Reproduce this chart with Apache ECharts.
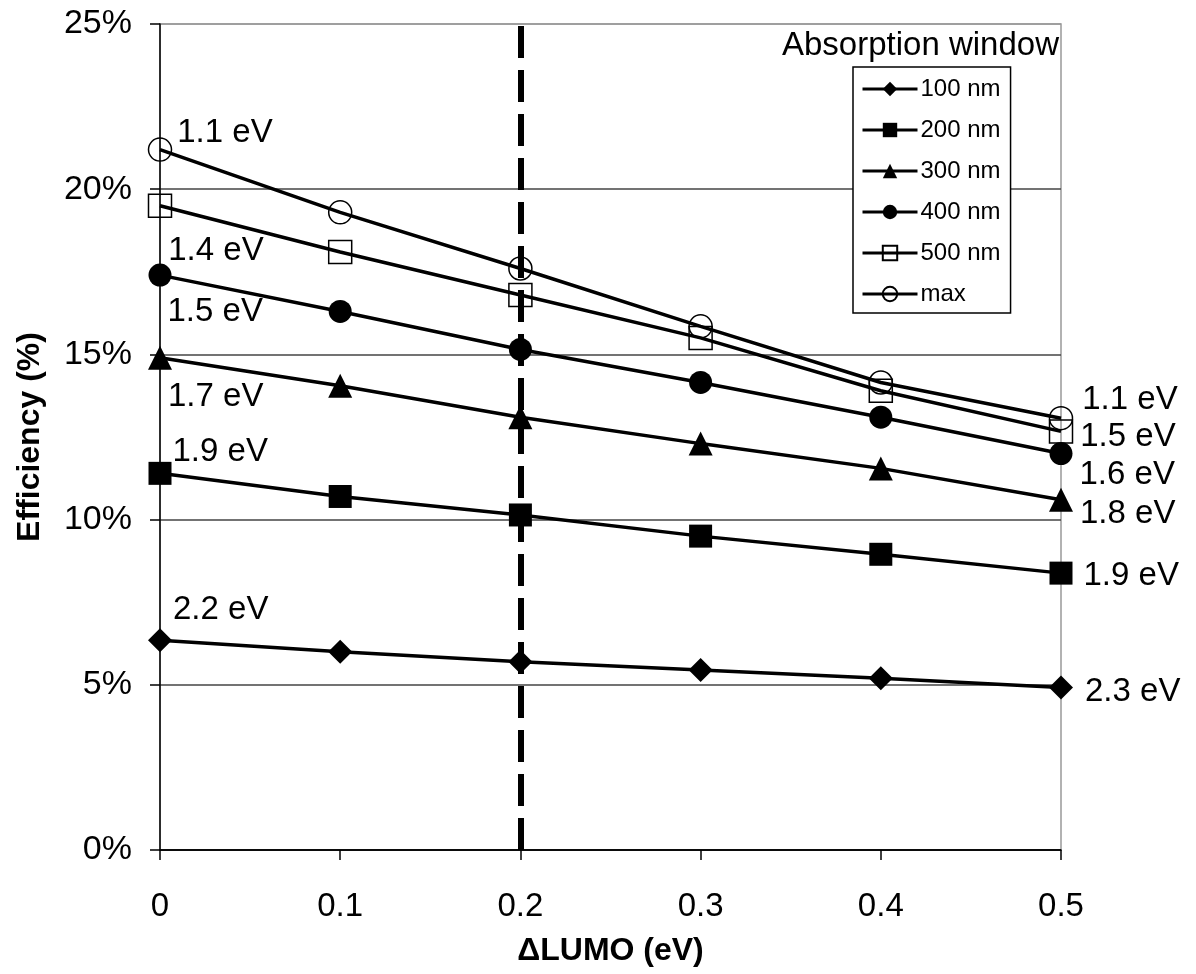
<!DOCTYPE html>
<html>
<head>
<meta charset="utf-8">
<script src="https://cdn.jsdelivr.net/npm/echarts@6/dist/echarts.min.js"></script>
<style>
  html, body { margin: 0; padding: 0; background: #fff; }
  #chart { width: 1196px; height: 974px; }
</style>
</head>
<body>
<div id="chart"></div>
<script>
// ΔLUMO values (eV)
const xValues = [0, 0.1, 0.2, 0.3, 0.4, 0.5]
const seriesNames = ['100 nm', '200 nm', '300 nm', '400 nm', '500 nm', 'max']

// efficiency (%) per absorption window
const eff100 = [6.35, 6.0, 5.7, 5.45, 5.2, 4.92]
const eff200 = [11.4, 10.7, 10.14, 9.5, 8.95, 8.38]
const eff300 = [14.9, 14.05, 13.1, 12.3, 11.55, 10.6]
const eff400 = [17.4, 16.3, 15.15, 14.15, 13.1, 12.0]
const eff500 = [19.5, 18.1, 16.8, 15.5, 13.9, 12.67]
const effMax = [21.2, 19.3, 17.6, 15.85, 14.15, 13.07]

// band gap labels at the two ends of each curve
const leftLabels = ['2.2 eV', '1.9 eV', '1.7 eV', '1.5 eV', '1.4 eV', '1.1 eV']
const rightLabels = ['2.3 eV', '1.9 eV', '1.8 eV', '1.6 eV', '1.5 eV', '1.1 eV']

const markerLine = 0.2

const FONT = '"Liberation Sans", Arial, sans-serif'

// marker look + label offsets for each series (same order as seriesNames)
const looks = [
  { symbol: 'diamond', size: 24, filled: true, lo: [-4, -30], ro: [7, 4] },
  { symbol: 'rect', size: 23, filled: true, lo: [-4, -21], ro: [6, 3] },
  { symbol: 'triangle', size: 24, filled: true, lo: [-9, 39], ro: [2, 14] },
  { symbol: 'circle', size: 23, filled: true, lo: [-9, 37], ro: [2, 21] },
  { symbol: 'rect', size: 23, filled: false, lo: [-9, 45], ro: [2, 6] },
  { symbol: 'circle', size: 23, filled: false, lo: [0, -17], ro: [4, -18] },
]

const allValues = [eff100, eff200, eff300, eff400, eff500, effMax]

const labelStyle = {
  show: true,
  position: 'right',
  color: '#000',
  fontSize: 33,
  fontFamily: FONT,
}

const series = allValues.map((vals, s) => {
  const look = looks[s]
  const last = vals.length - 1
  return {
    name: seriesNames[s],
    type: 'line',
    symbol: look.symbol,
    symbolSize: look.size,
    z: 3 + s,
    lineStyle: { color: '#000', width: 3.5 },
    itemStyle: look.filled
      ? { color: '#000', borderColor: '#000', borderWidth: 0 }
      : { color: 'rgba(0,0,0,0)', borderColor: '#000', borderWidth: 1.5 },
    data: vals.map((v, i) => {
      const d = { value: [xValues[i], v] }
      if (i === 0) {
        d.label = Object.assign({}, labelStyle, {
          formatter: leftLabels[s],
          offset: look.lo,
        })
      }
      if (i === last) {
        d.label = Object.assign({}, labelStyle, {
          formatter: rightLabels[s],
          offset: look.ro,
        })
      }
      return d
    }),
  }
})

// vertical dashed reference line
series[0].markLine = {
  silent: true,
  symbol: ['none', 'none'],
  label: { show: false },
  lineStyle: { color: '#000', width: 6, type: [32, 12] },
  data: [{ xAxis: markerLine }],
}

const chart = echarts.init(document.getElementById('chart'))
chart.setOption({
  animation: false,
  backgroundColor: '#fff',
  textStyle: { fontFamily: FONT },
  title: {
    text: 'Absorption window',
    left: 782,
    top: 29,
    padding: 0,
    textStyle: { fontSize: 33, fontWeight: 'normal', color: '#000', fontFamily: FONT },
  },
  legend: {
    orient: 'vertical',
    left: 853,
    top: 67,
    padding: [10, 10, 7, 8],
    itemWidth: 55,
    itemHeight: 18,
    itemGap: 17,
    backgroundColor: '#fff',
    borderColor: '#000',
    borderWidth: 1.5,
    borderRadius: 0,
    data: seriesNames,
    lineStyle: { width: 3 },
    textStyle: { fontSize: 24, color: '#000', fontFamily: FONT, lineHeight: 24, padding: [0, 0, 0, -2] },
  },
  grid: {
    left: 160,
    right: 135,
    top: 24,
    bottom: 124,
    show: true,
    borderColor: '#999',
    borderWidth: 1.5,
  },
  xAxis: {
    type: 'value',
    min: 0,
    max: 0.5,
    interval: 0.1,
    name: 'ΔLUMO (eV)',
    nameLocation: 'middle',
    nameGap: 85,
    nameTextStyle: { fontSize: 32, fontWeight: 'bold', color: '#000', fontFamily: FONT },
    axisLine: { lineStyle: { color: '#000', width: 1.5 } },
    axisTick: { show: true, length: 10, lineStyle: { color: '#000', width: 1.5 } },
    axisLabel: { margin: 40, fontSize: 33, color: '#000', fontFamily: FONT },
    splitLine: { show: false },
  },
  yAxis: {
    type: 'value',
    min: 0,
    max: 25,
    interval: 5,
    name: 'Efficiency (%)',
    nameLocation: 'middle',
    nameGap: 114,
    nameTextStyle: { fontSize: 32, fontWeight: 'bold', color: '#000', fontFamily: FONT },
    axisLine: { show: true, lineStyle: { color: '#000', width: 1.5 } },
    axisTick: { show: true, length: 10, lineStyle: { color: '#000', width: 1.5 } },
    axisLabel: { margin: 28, fontSize: 34, color: '#000', fontFamily: FONT, formatter: '{value}%' },
    splitLine: {
      show: true,
      lineStyle: { color: ['#000', '#444', '#444', '#444', '#444', '#999'], width: 1.5 },
    },
  },
  series: series,
})
</script>
</body>
</html>
